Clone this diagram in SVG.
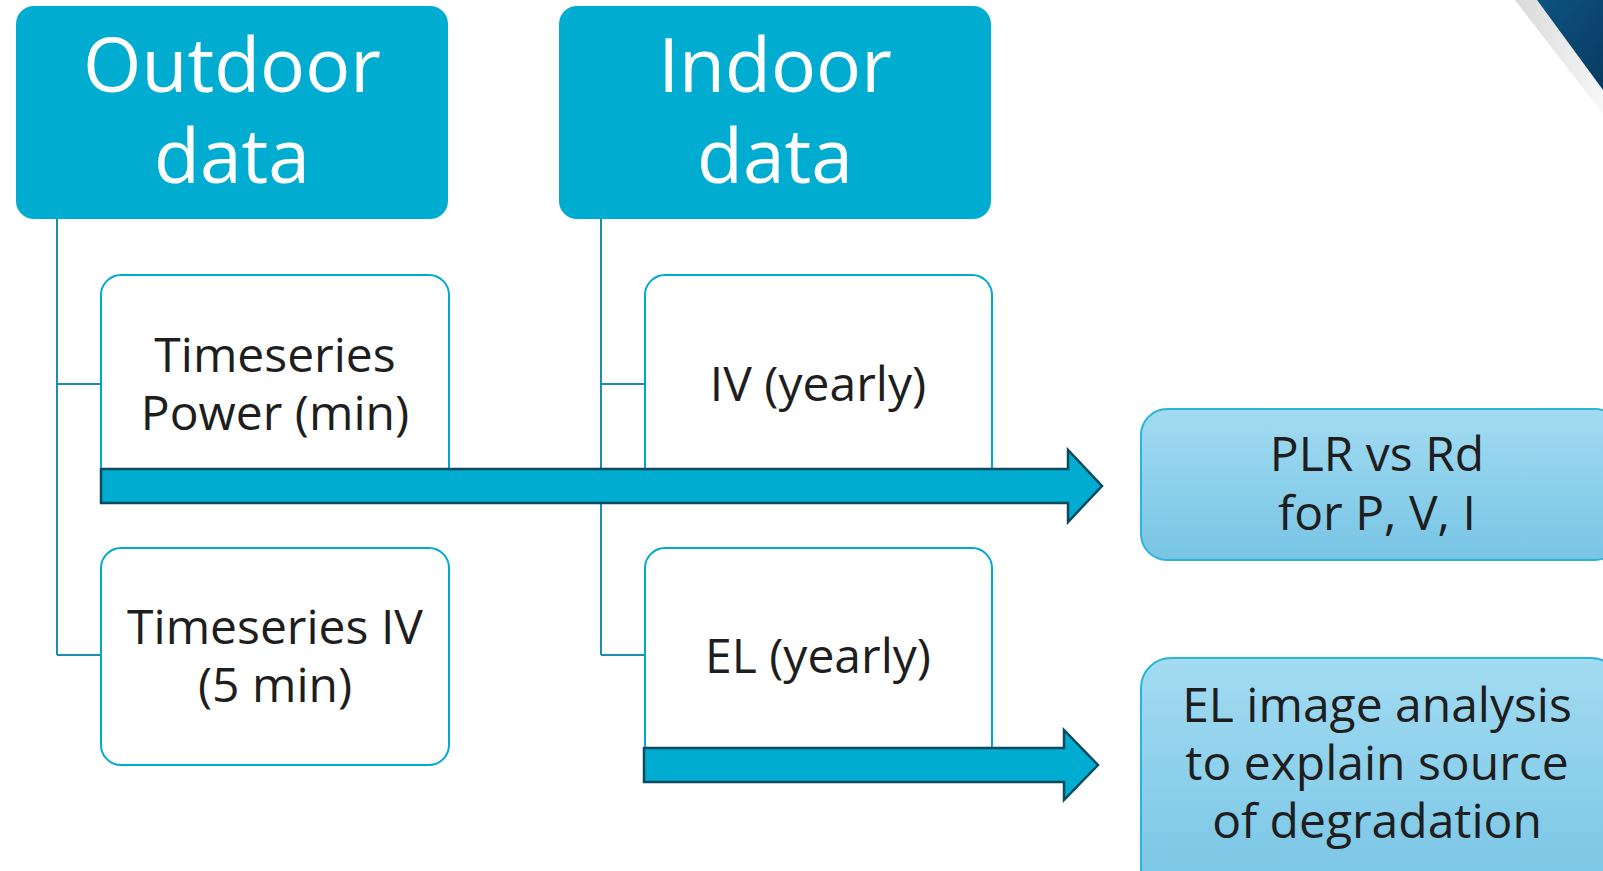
<svg xmlns="http://www.w3.org/2000/svg" width="1603" height="871" viewBox="0 0 1603 871">
  <defs>
    <linearGradient id="resultFill" x1="0" y1="0" x2="0" y2="1">
      <stop offset="0" stop-color="#a2dbf1"/>
      <stop offset="1" stop-color="#77c5e5"/>
    </linearGradient>
    <linearGradient id="cornerBlue" x1="0" y1="0" x2="1" y2="1">
      <stop offset="0" stop-color="#0d5382"/>
      <stop offset="1" stop-color="#083a60"/>
    </linearGradient>
    <linearGradient id="cornerBand" x1="0" y1="0" x2="1" y2="0">
      <stop offset="0" stop-color="#d9d9d9"/>
      <stop offset="1" stop-color="#f7f7f7"/>
    </linearGradient>
    <style>
      .header { fill: #00acd0; }
      .headerText { font-family: "Open Sans", "Liberation Sans", sans-serif; font-size: 75px; fill: #ffffff; text-anchor: middle; }
      .source { fill: #ffffff; stroke: #00a9d3; stroke-width: 2; }
      .sourceText { font-family: "Open Sans", "Liberation Sans", sans-serif; font-size: 48px; fill: #1e1e1e; text-anchor: middle; }
      .result { fill: url(#resultFill); stroke: #2bb4d8; stroke-width: 2; }
      .link { fill: none; stroke: #1a8db0; stroke-width: 2; }
      .flow { fill: #00acd0; stroke: #0b4a5e; stroke-width: 2.5; stroke-linejoin: miter; }
    </style>
  </defs>

  <rect width="1603" height="871" fill="#ffffff"/>

  <!-- corner decoration -->
  <polygon points="1515,0 1537,0 1603,90 1603,114" fill="url(#cornerBand)"/>
  <polygon points="1537,0 1603,0 1603,90" fill="url(#cornerBlue)"/>

  <!-- tree connectors -->
  <g id="connectors">
    <path class="link" d="M57,219 V655 M57,384 H101 M57,655 H101"/>
    <path class="link" d="M601,219 V655 M601,384 H645 M601,655 H645"/>
  </g>

  <g id="outdoor">
    <rect class="header" x="16" y="6" width="432" height="213" rx="18"/>
    <text class="headerText" x="232" y="92">Outdoor</text>
    <text class="headerText" x="232" y="183">data</text>
  </g>

  <g id="indoor">
    <rect class="header" x="559" y="6" width="432" height="213" rx="18"/>
    <text class="headerText" x="775" y="92">Indoor</text>
    <text class="headerText" x="775" y="183">data</text>
  </g>

  <g id="ts-power">
    <rect class="source" x="101" y="275" width="348" height="217" rx="20"/>
    <text class="sourceText" x="275" y="372">Timeseries</text>
    <text class="sourceText" x="275" y="430">Power (min)</text>
  </g>

  <g id="ts-iv">
    <rect class="source" x="101" y="548" width="348" height="217" rx="20"/>
    <text class="sourceText" x="275" y="644">Timeseries IV</text>
    <text class="sourceText" x="275" y="702">(5 min)</text>
  </g>

  <g id="iv-yearly">
    <rect class="source" x="645" y="275" width="347" height="217" rx="20"/>
    <text class="sourceText" x="818" y="401">IV (yearly)</text>
  </g>

  <g id="el-yearly">
    <rect class="source" x="645" y="548" width="347" height="217" rx="20"/>
    <text class="sourceText" x="818" y="673">EL (yearly)</text>
  </g>

  <!-- block arrows -->
  <g id="flows">
    <polygon class="flow" points="101,469 1068,469 1068,450 1102,486 1068,522 1068,503 101,503"/>
    <polygon class="flow" points="644,748 1064,748 1064,730 1098,765 1064,800 1064,782 644,782"/>
  </g>

  <g id="plr">
    <rect class="result" x="1141" y="409" width="480" height="151" rx="26"/>
    <text class="sourceText" x="1377" y="471">PLR vs Rd</text>
    <text class="sourceText" x="1377" y="530">for P, V, I</text>
  </g>

  <g id="el-analysis">
    <rect class="result" x="1141" y="658" width="480" height="240" rx="30"/>
    <text class="sourceText" x="1377" y="722">EL image analysis</text>
    <text class="sourceText" x="1377" y="780">to explain source</text>
    <text class="sourceText" x="1377" y="838">of degradation</text>
  </g>
</svg>
